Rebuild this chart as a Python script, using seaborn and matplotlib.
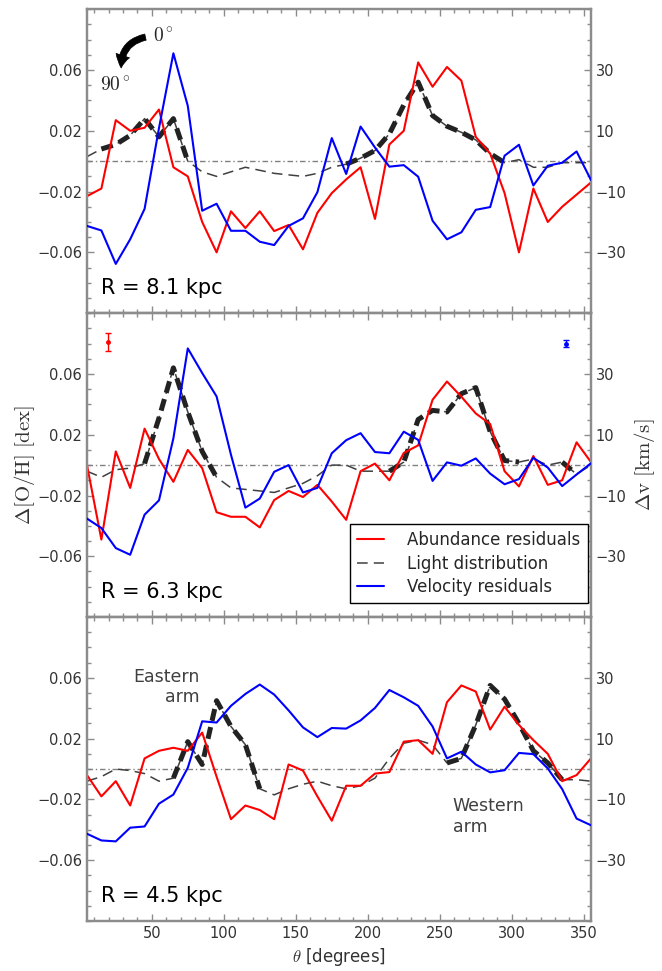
import numpy as np
import pandas as pd
import matplotlib
matplotlib.use("Agg")
import matplotlib.pyplot as plt
from matplotlib.ticker import FixedLocator, MultipleLocator
import seaborn as sns

# ---------------- data ----------------
theta = [5, 15, 25, 35, 45, 55, 65, 75, 85, 95, 105, 115, 125, 135, 145, 155, 165, 175,
         185, 195, 205, 215, 225, 235, 245, 255, 265, 275, 285, 295, 305, 315, 325, 335, 345, 355]

radii_labels = ["R = 8.1 kpc", "R = 6.3 kpc", "R = 4.5 kpc"]

# Abundance residuals (dex)
abund_81 = [-0.023, -0.018, 0.027, 0.020, 0.022, 0.034, -0.004, -0.010, -0.040, -0.060, -0.033, -0.044,
            -0.033, -0.046, -0.042, -0.058, -0.034, -0.021, -0.012, -0.004, -0.038, 0.011, 0.020, 0.065,
            0.049, 0.062, 0.053, 0.016, 0.005, -0.021, -0.060, -0.018, -0.040, -0.030, -0.022, -0.014]
abund_63 = [0.000, -0.049, 0.009, -0.015, 0.024, 0.004, -0.011, 0.010, -0.002, -0.031, -0.034, -0.034,
            -0.041, -0.023, -0.017, -0.021, -0.013, -0.024, -0.036, -0.004, 0.001, -0.010, 0.008, 0.013,
            0.043, 0.055, 0.045, 0.034, 0.027, -0.004, -0.014, 0.006, -0.013, -0.010, 0.015, 0.002]
abund_45 = [-0.004, -0.018, -0.008, -0.024, 0.007, 0.012, 0.014, 0.012, 0.024, -0.005, -0.033, -0.024,
            -0.027, -0.033, 0.003, -0.001, -0.018, -0.034, -0.011, -0.011, -0.003, -0.002, 0.018, 0.019,
            0.010, 0.044, 0.055, 0.051, 0.026, 0.041, 0.029, 0.019, 0.010, -0.008, -0.004, 0.007]

# Light distribution (arbitrary, drawn on the abundance scale)
light_81 = [0.003, 0.008, 0.011, 0.017, 0.028, 0.016, 0.028, 0.000, -0.007, -0.010, -0.007, -0.004,
            -0.006, -0.008, -0.009, -0.010, -0.008, -0.004, -0.002, 0.002, 0.007, 0.018, 0.037, 0.052,
            0.030, 0.023, 0.019, 0.014, 0.005, -0.001, 0.001, -0.004, -0.004, -0.001, -0.001, -0.001]
light_63 = [-0.004, -0.008, -0.003, -0.002, 0.001, 0.031, 0.064, 0.035, 0.009, -0.008, -0.015, -0.016,
            -0.017, -0.018, -0.015, -0.012, -0.007, 0.000, 0.000, -0.004, -0.004, -0.004, 0.002, 0.030,
            0.036, 0.035, 0.047, 0.051, 0.022, 0.003, 0.002, 0.004, 0.000, 0.002, -0.006, 0.000]
light_45 = [-0.008, -0.005, 0.000, -0.001, -0.003, -0.008, -0.006, 0.018, 0.003, 0.045, 0.028, 0.016,
            -0.013, -0.017, -0.013, -0.010, -0.008, -0.011, -0.013, -0.011, -0.006, 0.007, 0.017, 0.019,
            0.016, 0.004, 0.007, 0.029, 0.055, 0.046, 0.030, 0.012, 0.004, -0.007, -0.007, -0.008]

# Velocity residuals (km/s)
vel_81 = [-21.3, -22.8, -33.8, -25.7, -15.7, 10.9, 35.5, 18.2, -16.3, -14.0, -22.9, -22.9, -26.5, -27.6,
          -21.3, -18.8, -10.2, 7.6, -4.2, 11.4, 4.5, -1.8, -1.3, -5.1, -19.6, -25.7, -23.4, -16.0, -15.1,
          1.8, 5.4, -8.0, -1.5, -0.5, 3.2, -6.2]
vel_63 = [-17.6, -20.7, -27.3, -29.5, -16.3, -11.6, 8.8, 38.4, 30.3, 22.6, 3.4, -14.0, -11.0, -2.2, 0.0,
          -9.0, -7.5, 3.9, 8.2, 10.5, 4.3, 3.9, 11.0, 8.3, -5.2, 0.9, -0.2, 2.2, -2.8, -6.3, -4.6, 2.4,
          -0.8, -6.9, -3.1, 0.6]
vel_45 = [-21.3, -23.5, -23.8, -19.3, -18.9, -11.4, -8.4, 0.4, 15.7, 15.3, 20.8, 24.7, 27.8, 24.5, 19.3,
          13.7, 10.5, 13.5, 13.3, 16.0, 20.1, 26.0, 23.6, 20.8, 14.0, 3.5, 5.7, 1.5, -1.1, -0.4, 5.3, 4.9,
          0.2, -6.6, -16.3, -18.5]

# Angular ranges of the spiral arms (light distribution drawn thick there)
arms_81 = [(15, 75), (185, 295)]
arms_63 = [(45, 95), (215, 305), (335, 345)]
arms_45 = [(65, 125), (255, 335)]

# Typical uncertainties (shown in middle panel)
err_abund = (19.5, 0.081, 0.006)
err_vel = (338, 40.0, 1.1)

panels = [
    (radii_labels[0], abund_81, light_81, vel_81, arms_81),
    (radii_labels[1], abund_63, light_63, vel_63, arms_63),
    (radii_labels[2], abund_45, light_45, vel_45, arms_45),
]

# ---------------- style ----------------
sns.set_style("ticks")
plt.rcParams["font.family"] = ["DejaVu Sans"]
plt.rcParams["mathtext.fontset"] = "cm"
spine_col = "#8c8c8c"
text_col = "#333333"

fig, axes = plt.subplots(3, 1, figsize=(6.62, 9.71), dpi=100, sharex=True)
fig.subplots_adjust(left=0.1314, right=0.8927, top=0.9905, bottom=0.0515, hspace=0)

for i, (ax, (rlab, ab, li, ve, arms)) in enumerate(zip(axes, panels)):
    ax2 = ax.twinx()
    df = pd.DataFrame({"theta": theta, "abund": ab, "light": li, "vel": ve})

    ax.axhline(0, color="#808080", lw=1.0, ls=(0, (4, 2, 1, 2)), zorder=1)
    sns.lineplot(data=df, x="theta", y="light", ax=ax, color="#404040", lw=1.1,
                 dashes=False, linestyle=(0, (7, 4)), label="Light distribution",
                 legend=False, zorder=2)
    for (a0, a1) in arms:
        sub = df[(df["theta"] >= a0) & (df["theta"] <= a1)]
        sns.lineplot(data=sub, x="theta", y="light", ax=ax, color="#222222", lw=3.6,
                     dashes=False, linestyle=(0, (2.4, 1.3)), legend=False, zorder=3)
    sns.lineplot(data=df, x="theta", y="abund", ax=ax, color="#ff0000", lw=1.5,
                 label="Abundance residuals", legend=False, zorder=4)
    sns.lineplot(data=df, x="theta", y="vel", ax=ax2, color="#0000ff", lw=1.5,
                 label="Velocity residuals", legend=False, zorder=4)

    ax.set_xlim(5, 355)
    ax.set_ylim(-0.1, 0.1)
    ax2.set_ylim(-50, 50)
    ax.set_ylabel("")
    ax2.set_ylabel("")
    ax.set_xlabel("")

    ax.yaxis.set_major_locator(FixedLocator([-0.06, -0.02, 0.02, 0.06]))
    ax.yaxis.set_minor_locator(MultipleLocator(0.01))
    ax.set_yticklabels(["\u22120.06", "\u22120.02", "0.02", "0.06"])
    ax2.yaxis.set_major_locator(FixedLocator([-30, -10, 10, 30]))
    ax2.yaxis.set_minor_locator(MultipleLocator(5))
    ax2.set_yticklabels(["\u221230", "\u221210", "10", "30"])
    ax.xaxis.set_major_locator(MultipleLocator(50))
    ax.xaxis.set_minor_locator(MultipleLocator(10))

    for a in (ax, ax2):
        for s in a.spines.values():
            s.set_color(spine_col)
            s.set_linewidth(1.6)
        a.tick_params(which="both", direction="in", colors=spine_col, labelcolor=text_col,
                      labelsize=10.5, width=1.0)
        a.tick_params(which="major", length=5)
        a.tick_params(which="minor", length=3)
    ax.tick_params(which="both", top=True, right=False, left=True, bottom=True,
                   labelbottom=(i == 2))
    ax2.tick_params(which="both", right=True, left=False)

    ax.text(0.027, 0.05, rlab, transform=ax.transAxes, fontsize=15, color="black",
            ha="left", va="bottom")

    if i == 0:
        ax.annotate("", xy=(28.8, 0.0595), xytext=(47.5, 0.082),
                    arrowprops=dict(arrowstyle="simple,head_length=0.75,head_width=0.85,tail_width=0.38",
                                    connectionstyle="arc3,rad=0.45", color="black", lw=0.5,
                                    mutation_scale=12))
        ax.text(50.5, 0.082, r"$0^\circ$", fontsize=14, ha="left", va="center")
        ax.text(24.9, 0.050, r"$90^\circ$", fontsize=14, ha="center", va="center")
    if i == 1:
        ax.errorbar([err_abund[0]], [err_abund[1]], yerr=[err_abund[2]], fmt="o", ms=2.5,
                    color="#ff0000", capsize=2, elinewidth=1, capthick=1)
        ax2.errorbar([err_vel[0]], [err_vel[1]], yerr=[err_vel[2]], fmt="o", ms=2.5,
                     color="#0000ff", capsize=2, elinewidth=1, capthick=1)
        h1, l1 = ax.get_legend_handles_labels()
        h2, l2 = ax2.get_legend_handles_labels()
        hd = dict(zip(l1 + l2, h1 + h2))
        order = ["Abundance residuals", "Light distribution", "Velocity residuals"]
        leg = ax2.legend([hd[k] for k in order], order, loc="lower right",
                         bbox_to_anchor=(0.994, 0.045), borderaxespad=0, fontsize=12,
                         handlelength=1.6, handletextpad=1.4, borderpad=0.45,
                         labelspacing=0.32, frameon=True, fancybox=False,
                         edgecolor="black", framealpha=1)
        leg.get_frame().set_linewidth(1.0)
        ax.set_ylabel(r"$\Delta\mathrm{[O/H]\ [dex]}$", fontsize=15, color=text_col, labelpad=0)
        ax2.set_ylabel(r"$\Delta\mathrm{v\ [km/s]}$", fontsize=15, color=text_col, labelpad=4)
    if i == 2:
        ax.text(83, 0.054, "Eastern\narm", ha="right", va="center", fontsize=12.5,
                color="#404040", multialignment="right")
        ax.text(259, -0.0315, "Western\narm", ha="left", va="center", fontsize=12.5,
                color="#404040", multialignment="left")
        ax.set_xlabel(r"$\theta$ [degrees]", fontsize=12, color=text_col)

fig.savefig("out.png", dpi=100)
